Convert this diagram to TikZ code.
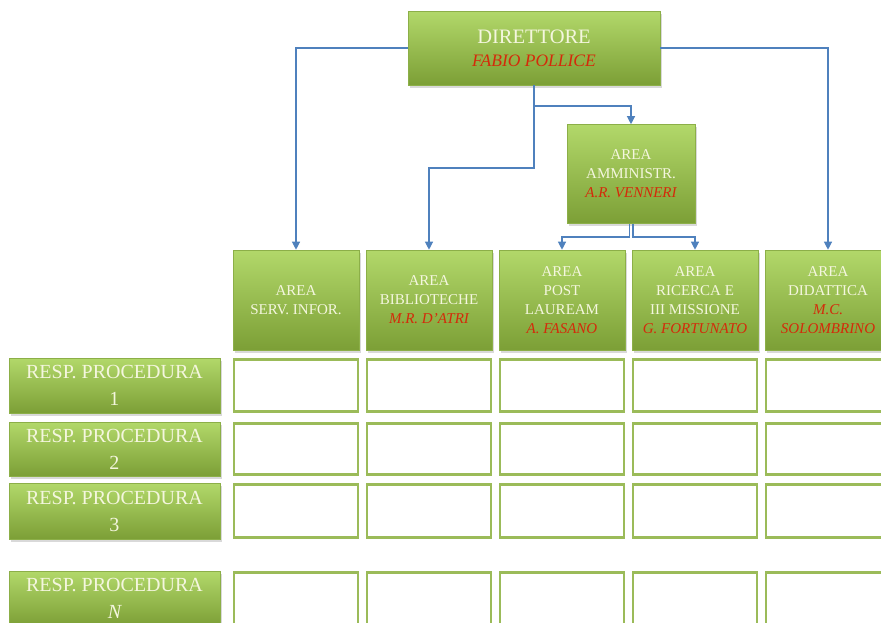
\documentclass[tikz,border=0pt]{standalone}
\usepackage{fontspec}
\setmainfont{Liberation Serif}
\usetikzlibrary{arrows.meta,shadows,calc}
\definecolor{lineblue}{HTML}{4F81BD}
\definecolor{gtop}{HTML}{B2D86A}
\definecolor{gbot}{HTML}{7C9F36}
\definecolor{gedge}{HTML}{8CAF48}
\definecolor{cellgreen}{HTML}{9BBB59}
\definecolor{txtcream}{HTML}{F4F6DE}
\definecolor{namered}{HTML}{D42A0A}
\newcommand\redname[1]{{\color{namered}\itshape #1}}
\begin{document}
\begin{tikzpicture}[x=1pt,y=-1pt,
  gbox/.style={rectangle, top color=gtop, bottom color=gbot, draw=gedge, line width=0.6pt,
    drop shadow={opacity=0.3, shadow xshift=2pt, shadow yshift=-2.5pt},
    text=txtcream, align=center, inner sep=0pt},
  areabox/.style={gbox, minimum width=126, minimum height=100, font=\fontsize{15}{19}\selectfont},
  respbox/.style={gbox, minimum width=211, font=\fontsize{20}{27}\selectfont},
  cell/.style={rectangle, draw=cellgreen, line width=2.7pt, fill=white, minimum width=124, inner sep=0pt},
  conn/.style={draw=lineblue, line width=1.2pt, -{Triangle[length=8pt,width=8pt]}}]
\useasboundingbox (0,0) rectangle (881,622);
\clip (0,0) rectangle (881,622);

\node[gbox, minimum width=252, minimum height=74, font=\fontsize{20.5}{23}\selectfont] (dir) at (534,48)
  {DIRETTORE\\{\fontsize{17.5}{23}\selectfont\redname{FABIO POLLICE}}};
\node[areabox, minimum width=128, minimum height=99] (amm) at (631,174)
  {AREA\\AMMINISTR.\\\redname{A.R. VENNERI}};

\node[areabox] (serv) at (296,300) {AREA\\SERV. INFOR.};
\node[areabox] (bib)  at (429,300) {AREA\\BIBLIOTECHE\\\redname{M.R. D'ATRI}};
\node[areabox] (post) at (562,300) {AREA\\POST\\LAUREAM\\\redname{A. FASANO}};
\node[areabox] (ric)  at (695,300) {AREA\\RICERCA E\\III MISSIONE\\\redname{G. FORTUNATO}};
\node[areabox] (did)  at (828,300) {AREA\\DIDATTICA\\\redname{M.C.}\\\redname{SOLOMBRINO}};

\coordinate (j1) at (534,106);
\coordinate (j2) at (534,168);
\coordinate (a1) at (629.5,237);
\coordinate (a2) at (633,237);

\draw[conn] (dir.west) -| (serv.north);
\draw[conn] (dir.east) -| (did.north);
\draw[conn] (dir.south) -- (j1) -| (amm.north);
\draw[conn] (j1) -- (j2) -| (bib.north);
\draw[conn] ($(amm.south)+(-1.5,0)$) -- (a1) -| (post.north);
\draw[conn] ($(amm.south)+(2,0)$) -- (a2) -| (ric.north);

\foreach \r/\y/\h/\lab in {1/385.5/55/1, 2/449/54/2, 3/511/56/3, 4/598.5/55/{\itshape N}}{
  \node[respbox, minimum height=\h] (resp\r) at (114.5,\y) {RESP. PROCEDURA\\\lab};
  \foreach \c/\x in {1/296,2/429,3/562,4/695,5/828}{
    \node[cell, minimum height=\h-2.7] (cell\r-\c) at (\x,\y) {};
  }
}
\end{tikzpicture}
\end{document}
